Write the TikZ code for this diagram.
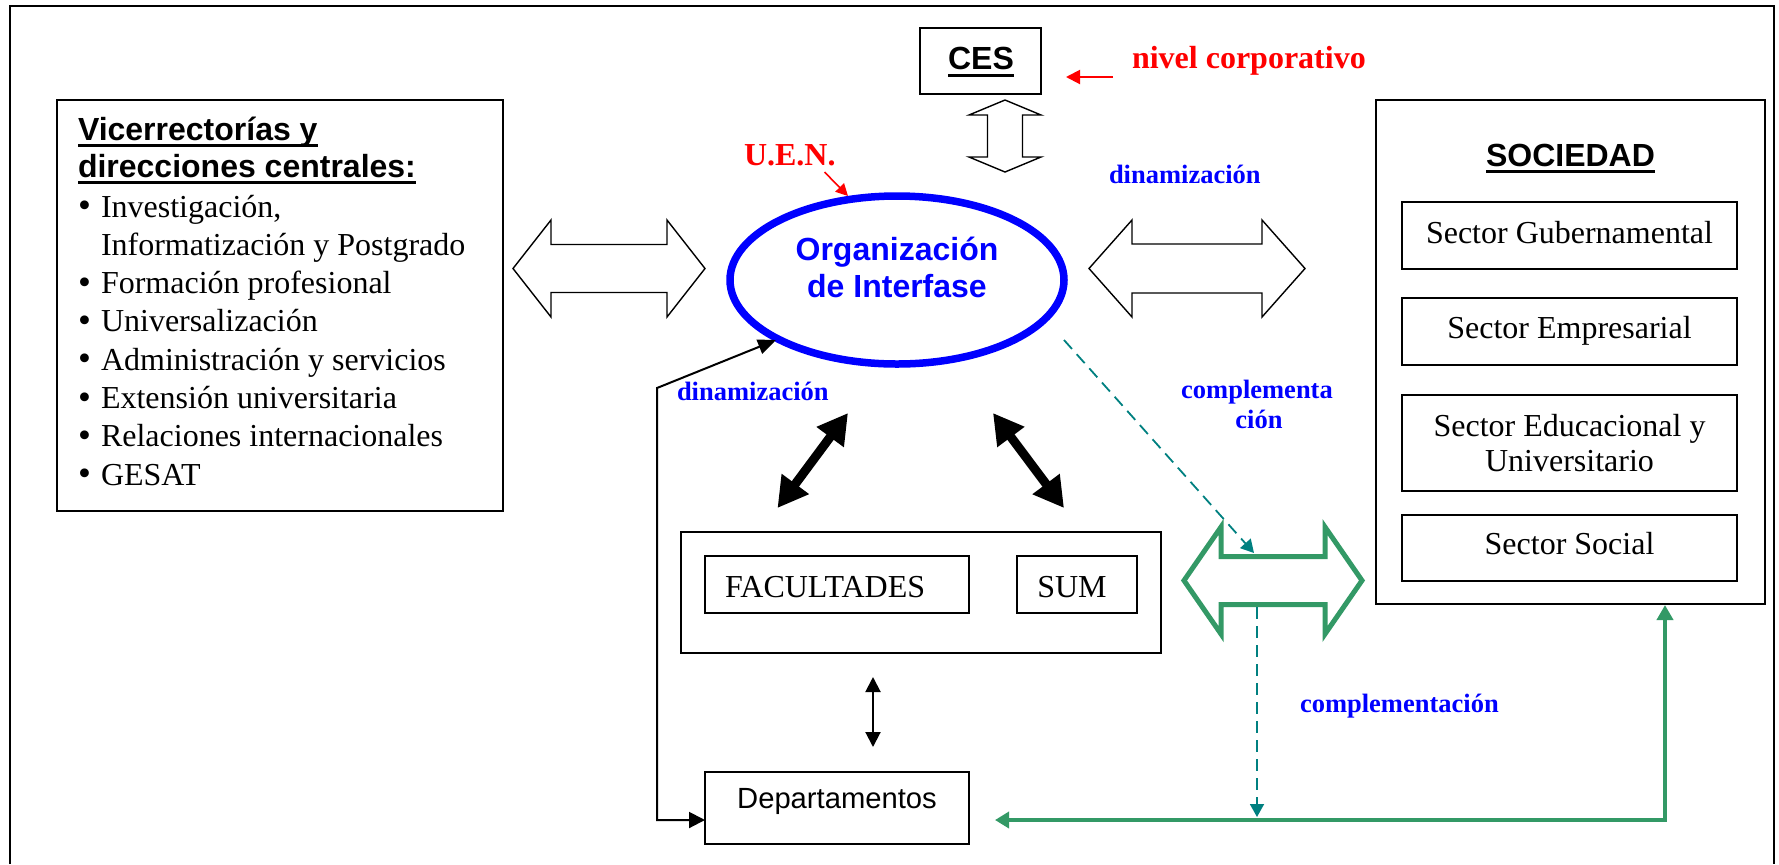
\documentclass[tikz,border=0pt]{standalone}
\usepackage{fontspec}
\setmainfont{Liberation Serif}
\newfontfamily\arialf{Liberation Sans}
\usetikzlibrary{arrows.meta,shapes.geometric,fit}

\definecolor{seagreen}{RGB}{51,153,102}
\definecolor{tealc}{RGB}{0,128,128}

% horizontal double block arrow: style, x-left tip, x-right tip, y, head length, head half-height, shaft half-height
\newcommand{\HArrow}[7]{%
  \draw[#1] (#2,#4) -- (#2+#5,#4-#6) -- (#2+#5,#4-#7) -- (#3-#5,#4-#7)
    -- (#3-#5,#4-#6) -- (#3,#4) -- (#3-#5,#4+#6) -- (#3-#5,#4+#7)
    -- (#2+#5,#4+#7) -- (#2+#5,#4+#6) -- cycle;}
% vertical double block arrow: style, x, y-top tip, y-bottom tip, head length, head half-width, shaft half-width
\newcommand{\VArrow}[7]{%
  \draw[#1] (#2,#3) -- (#2+#6,#3+#5) -- (#2+#7,#3+#5) -- (#2+#7,#4-#5)
    -- (#2+#6,#4-#5) -- (#2,#4) -- (#2-#6,#4-#5) -- (#2-#7,#4-#5)
    -- (#2-#7,#3+#5) -- (#2-#6,#3+#5) -- cycle;}
% list bullet
\newcommand{\lbul}{\makebox[11.5pt][l]{\raisebox{-0.3pt}{\scalebox{1.15}{\textbullet}}}}

\begin{document}
\begin{tikzpicture}[x=0.5pt,y=-0.5pt,
  box/.style={draw, line width=1pt, inner sep=0pt, outer sep=0pt, rectangle},
  txt/.style={inner sep=0pt, outer sep=0pt, font=\fontsize{16pt}{19pt}\selectfont},
  ttl/.style={inner sep=0pt, outer sep=0pt, font=\arialf\bfseries\fontsize{16pt}{19pt}\selectfont},
  bluelbl/.style={inner sep=0pt, outer sep=0pt, text=blue, font=\bfseries\fontsize{13.25pt}{16pt}\selectfont},
  redlbl/.style={inner sep=0pt, outer sep=0pt, text=red, font=\bfseries\fontsize{16pt}{19pt}\selectfont},
  ul/.style={line width=1.5pt},
  blockarrow/.style={draw=black, line width=0.7pt, fill=white, line join=miter},
  greenblock/.style={draw=seagreen, line width=2.5pt, fill=white, line join=miter},
  bigdbl/.style={line width=4.5pt, {Triangle[length=15pt,width=16pt]}-{Triangle[length=15pt,width=16pt]}},
  thindbl/.style={line width=1pt, {Triangle[length=7.5pt,width=7.5pt]}-{Triangle[length=7.5pt,width=7.5pt]}},
  dinconn/.style={line width=1pt, {Triangle[length=8pt,width=8pt]}-{Triangle[length=9pt,width=7.5pt]}},
  tealdash/.style={draw=tealc, line width=0.9pt, dash pattern=on 6pt off 3.5pt, -{Triangle[length=6.5pt,width=7pt]}},
  greenconn/.style={draw=seagreen, line width=2.2pt, {Triangle[length=7pt,width=8pt]}-{Triangle[length=7.5pt,width=8pt]}},
  redarrow/.style={draw=red, line width=1pt, -{Triangle[length=7pt,width=7pt]}},
  redsmall/.style={draw=red, line width=0.8pt, -{Triangle[length=6pt,width=6pt]}}
]
\useasboundingbox (0,0) rectangle (1779,864);

% outer frame (open at the bottom)
\draw[line width=1pt] (9.6,864) -- (9.6,6) -- (1774,6) -- (1774,864);

% ---------- left box: vice-rectorates ----------
\node[box, fit={(57,100) (503,511)}] (vice) {};
\node[ttl, anchor=base west] (vt1) at (78,140) {Vicerrectorías y};
\node[ttl, anchor=base west] (vt2) at (78,177) {direcciones centrales:};
\draw[ul] ([yshift=-2.5pt]vt1.base west) -- ([yshift=-2.5pt]vt1.base east);
\draw[ul] ([yshift=-2.5pt]vt2.base west) -- ([yshift=-2.5pt]vt2.base east);
\node[txt, anchor=base west] (b1)  at (78,217)   {\lbul Investigación,};
\node[txt, anchor=base west] (b1c) at (101,255.3) {Informatización y Postgrado};
\node[txt, anchor=base west] (b2)  at (78,293.6) {\lbul Formación profesional};
\node[txt, anchor=base west] (b3)  at (78,331.9) {\lbul Universalización};
\node[txt, anchor=base west] (b4)  at (78,370.2) {\lbul Administración y servicios};
\node[txt, anchor=base west] (b5)  at (78,408.5) {\lbul Extensión universitaria};
\node[txt, anchor=base west] (b6)  at (78,446.8) {\lbul Relaciones internacionales};
\node[txt, anchor=base west] (b7)  at (78,485.1) {\lbul GESAT};

% ---------- CES ----------
\node[box, fit={(920,28) (1041,94)}] (ces) {};
\node[ttl, anchor=base] (cest) at (981,69) {CES};
\draw[ul] ([yshift=-3pt]cest.base west) -- ([yshift=-3pt]cest.base east);
\node[redlbl, anchor=base west] (niv) at (1132,68) {nivel corporativo};
\coordinate (nivA) at (1113,77);
\coordinate (nivB) at (1066,77);
\draw[redarrow] (nivA) -- (nivB);

% CES <-> interface organisation
\VArrow{blockarrow}{1005}{100}{172}{15}{36}{17.5}

% ---------- central ellipse ----------
\node[draw=blue, line width=3.75pt, ellipse, minimum width=167pt, minimum height=84pt, inner sep=0pt] (org) at (897,280) {};
\node[ttl, text=blue, anchor=base] (org1) at (897,260) {Organización};
\node[ttl, text=blue, anchor=base] (org2) at (897,297) {de Interfase};

\node[redlbl, anchor=base west] (uen) at (744,165) {U.E.N.};
\coordinate (uenA) at (824.5,172);
\coordinate (uenB) at (848,196);
\draw[redsmall] (uenA) -- (uenB);

% block arrows left and right of the ellipse
\HArrow{blockarrow}{513}{705}{268.5}{38}{48.5}{24}
\HArrow{blockarrow}{1089}{1305}{268.5}{43}{48.5}{24.5}
\node[bluelbl, anchor=base west] (din1) at (1109,183) {dinamización};

% ---------- SOCIEDAD ----------
\node[box, fit={(1376,100) (1765,604)}] (soc) {};
\node[ttl, anchor=base] (soct) at (1570.5,166) {SOCIEDAD};
\draw[ul] ([yshift=-2.8pt]soct.base west) -- ([yshift=-2.8pt]soct.base east);
\node[box, fit={(1402,202) (1737,269)}] (gub) {};
\node[box, fit={(1402,298) (1737,365)}] (emp) {};
\node[box, fit={(1402,395) (1737,491)}] (edu) {};
\node[box, fit={(1402,515) (1737,581)}] (ssoc) {};
\node[txt, anchor=base] at (1569.5,243) {Sector Gubernamental};
\node[txt, anchor=base] at (1569.5,338) {Sector Empresarial};
\node[txt, anchor=base] at (1569.5,436) {Sector Educacional y};
\node[txt, anchor=base] at (1569.5,471) {Universitario};
\node[txt, anchor=base] at (1569.5,554) {Sector Social};

% ---------- faculties ----------
\node[box, fit={(681,532) (1161,653)}] (facout) {};
\node[box, fit={(705,556) (969,613)}] (fac) {};
\node[box, fit={(1017,556) (1137,613)}] (sum) {};
\node[txt, anchor=base west] at (725,597) {FACULTADES};
\node[txt, anchor=base] at (1072,597) {SUM};

\node[box, fit={(705,772) (969,844)}] (dep) {};
\node[inner sep=0pt, anchor=base, font=\arialf\fontsize{14.6pt}{17pt}\selectfont] at (837,808) {Departamentos};

% ellipse <-> faculties
\coordinate (fa1) at (777.5,508);
\coordinate (fa2) at (848,413);
\coordinate (fb1) at (993,413);
\coordinate (fb2) at (1064,508);
\draw[bigdbl] (fa1) -- (fa2);
\draw[bigdbl] (fb1) -- (fb2);

% faculties <-> departments
\coordinate (fd1) at (873,677);
\coordinate (fd2) at (873,747);
\draw[thindbl] (fd1) -- (fd2);

% departments <-> ellipse (dinamizacion)
\coordinate (depin) at (705,820);
\coordinate (orgin) at (776,340);
\draw[dinconn] (depin) -- (657,820) -- (657,388) -- (orgin);
\node[bluelbl, anchor=base west] (din2) at (677,400) {dinamización};

% complementation
\coordinate (tdA) at (1064,340);
\coordinate (tdB) at (1254,553);
\draw[tealdash] (tdA) -- (tdB);
\node[bluelbl, anchor=base] (comp1) at (1257,398) {complementa};
\node[bluelbl, anchor=base] (comp2) at (1259,428) {ción};

\HArrow{greenblock}{1184}{1362}{580.5}{37}{53.5}{24}

\coordinate (tvA) at (1257,607);
\coordinate (tvB) at (1257,817);
\draw[tealdash] (tvA) -- (tvB);
\node[bluelbl, anchor=base west] (comp3) at (1300,712) {complementación};

\coordinate (gL) at (995,820);
\coordinate (gC) at (1665,820);
\coordinate (gT) at (1665,605);
\draw[greenconn] (gL) -- (gC) -- (gT);

\end{tikzpicture}
\end{document}
